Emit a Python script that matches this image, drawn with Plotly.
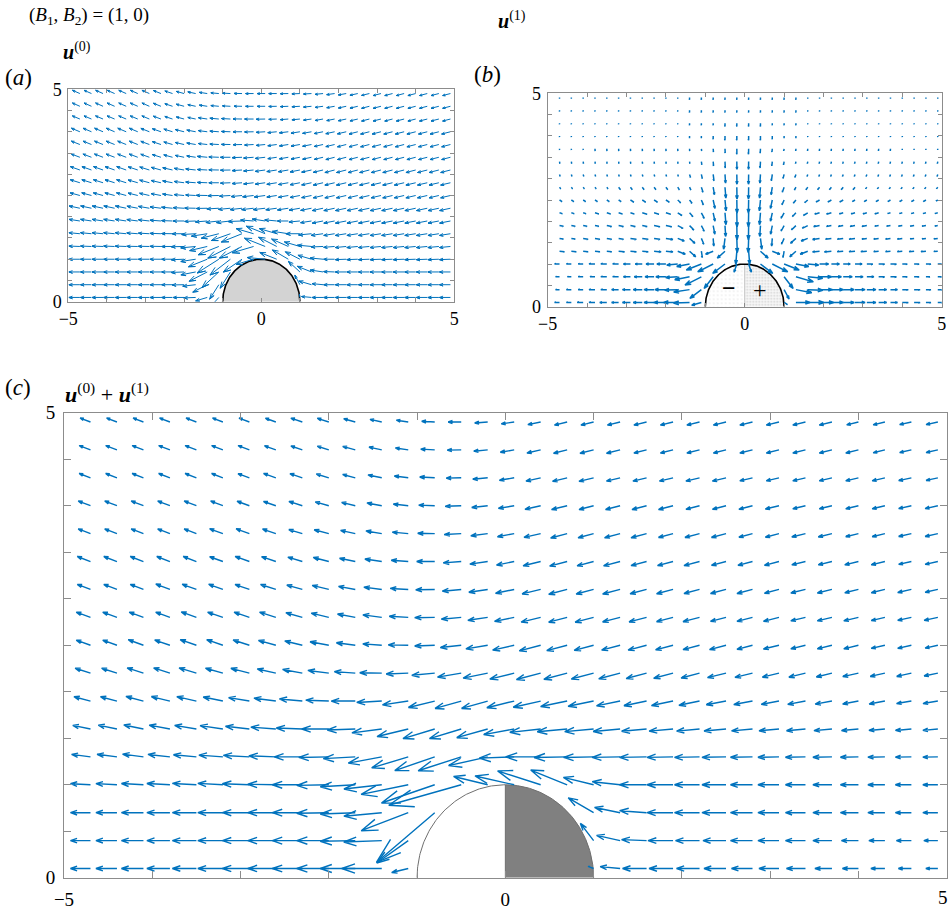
import numpy as np
import plotly.graph_objects as go

# ---------------------------------------------------------------------------
# Sample grid shared by the three quiver panels
# ---------------------------------------------------------------------------
X_GRID = [-4.7, -4.4, -4.1, -3.8, -3.5, -3.2, -2.9, -2.6, -2.3, -2.0, -1.7,
          -1.4, -1.1, -0.8, -0.5, -0.2, 0.1, 0.4, 0.7, 1.0, 1.3, 1.6, 1.9,
          2.2, 2.5, 2.8, 3.1, 3.4, 3.7, 4.0, 4.3, 4.6, 4.9]
Y_GRID = [0.1, 0.4, 0.7, 1.0, 1.3, 1.6, 1.9, 2.2, 2.5, 2.8, 3.1, 3.4, 3.7,
          4.0, 4.3, 4.6, 4.9]

X_LABEL_TICKS = [-5, 0, 5]
X_LABEL_TEXT = ["\u22125", "0", "5"]
X_MINOR_TICKS = [-4, -3, -2, -1, 1, 2, 3, 4]
Y_LABEL_TICKS = [0, 5]
Y_LABEL_TEXT = ["0", "5"]
Y_MINOR_TICKS = [0.5, 1, 1.5, 2, 2.5, 3, 3.5, 4, 4.5]

R_BODY = 1.0  # hemisphere radius

# ---------------------------------------------------------------------------
# u(0): arrow direction (deg, 180 = pointing in -x) and magnitude, rows y=0.1..4.9
# ---------------------------------------------------------------------------
A_DIR = [
    [180]*10 + [182, 195, 225] + [0]*6 + [100, 175] + [180]*12,
    [180]*9 + [181, 186, 205, 235] + [0]*6 + [120, 165, 175] + [180]*11,
    [180]*9 + [182, 190, 205, 220, 235] + [0]*5 + [140, 160, 172, 178] + [180]*10,
    [180]*9 + [182, 188, 200, 210, 215, 212, 195, 175, 160, 152, 155, 165, 175, 180] + [182]*10,
    [178, 178, 178, 178, 178, 179, 179, 179, 180, 181, 185, 192, 200, 205, 205, 195, 160, 155, 158, 165, 175, 182, 184] + [185]*10,
    [175, 175, 175, 175, 175, 176, 177, 178, 179, 180, 183, 188, 193, 198, 200, 165, 160, 165, 172, 180, 185, 187] + [188]*11,
    [172, 172, 172, 172, 172, 173, 174, 176, 178, 180, 182, 184, 186, 186, 182, 176, 172, 175, 180, 185, 188] + [190]*12,
    [169, 169, 169, 169, 169, 170, 171, 173, 175, 177, 179, 181, 183, 185, 186, 186, 186, 187, 188, 189, 190] + [191]*12,
    [166, 166, 166, 166, 166, 167, 168, 170, 172, 175, 177, 179, 181, 183, 185, 186, 187, 188, 189, 190, 191] + [192]*12,
    [164, 164, 164, 164, 164, 165, 166, 168, 170, 173, 176, 178, 180, 182, 184, 186, 187, 188, 189, 190, 191] + [192]*12,
    [162, 162, 162, 162, 162, 163, 164, 166, 168, 171, 174, 177, 179, 181, 183, 185, 187, 188, 189, 190, 191, 192] + [193]*11,
    [161, 161, 161, 161, 161, 161, 162, 164, 166, 169, 172, 175, 178, 180, 182, 184, 186, 188, 189, 190, 191, 192] + [193]*11,
    [160, 160, 160, 160, 160, 160, 161, 163, 165, 168, 171, 174, 177, 179, 181, 183, 185, 187, 188, 189, 190, 191, 192] + [193]*10,
    [159, 159, 159, 159, 159, 159, 160, 162, 164, 167, 170, 173, 176, 178, 180, 181, 183, 185, 186, 188, 189, 190, 191, 192] + [193]*9,
    [159, 159, 159, 159, 159, 159, 159, 161, 163, 166, 169, 172, 175, 177, 179, 180, 181, 182, 184, 185, 187, 189, 190, 191, 192] + [193]*8,
    [158, 158, 158, 158, 158, 158, 158, 160, 163, 166, 169, 172, 175, 177, 179, 180, 180, 181, 182, 183, 185, 187, 189, 191, 192] + [193]*8,
    [158, 158, 158, 158, 158, 158, 158, 160, 163, 166, 169, 172, 175, 177, 179, 180, 180, 180, 181, 182, 183, 185, 187, 189, 191, 192] + [193]*7,
]
A_MAG = [
    [11]*10 + [12, 12, 12] + [0]*6 + [3, 10] + [11]*12,
    [11]*9 + [12, 13, 16, 16] + [0]*6 + [10, 13] + [11]*12,
    [11]*9 + [13, 15, 20, 22, 18] + [0]*5 + [15, 15, 13] + [11]*11,
    [11]*9 + [13, 15, 20, 25, 25, 22, 18, 18, 18, 18, 16, 14, 13] + [11]*11,
    [11]*9 + [13, 15, 18, 22, 25, 25, 22, 22, 20, 18, 16, 14, 12] + [11]*11,
    [11]*9 + [12, 14, 16, 18, 20, 22, 18, 20, 18, 16, 14, 13, 12] + [11]*11,
    [11]*11 + [12, 13, 14, 14, 13, 13, 12] + [11]*15,
    [11]*12 + [12, 12, 12, 12, 12] + [11]*16,
    [10]*11 + [11, 11, 11, 11, 11, 11] + [10]*16,
    [10]*33,
    [10]*33,
    [9]*11 + [10, 10, 10, 10, 10, 10] + [9]*16,
    [9]*33,
    [9]*33,
    [8]*11 + [9, 9, 9, 9, 9, 9] + [8]*16,
    [8]*33,
    [8]*33,
]

# ---------------------------------------------------------------------------
# u(1)
# ---------------------------------------------------------------------------
B_DIR = [
    [180]*11 + [182, 195] + [0]*6 + [330] + [0]*13,
    [180]*10 + [182, 188, 215] + [0]*6 + [300, 350, 358] + [0]*11,
    [180]*10 + [183, 190, 205, 230] + [0]*5 + [310, 345, 355] + [0]*11,
    [180]*10 + [185, 190, 200, 205, 215, 250, 290, 325, 335, 340, 350, 355] + [0]*11,
    [355]*10 + [340, 320, 280, 200, 220, 265, 275, 320, 340, 260, 220, 200] + [185]*11,
    [352]*10 + [340, 320, 295, 275, 262, 272, 268, 278, 265, 245, 220, 200] + [188]*11,
    [350]*10 + [335, 318, 300, 282, 274, 271, 269, 266, 258, 240, 222, 205] + [190]*11,
    [345]*10 + [330, 315, 300, 283, 275, 271, 269, 265, 257, 240, 225, 210] + [195]*11,
    [330]*10 + [320, 310, 295, 283, 276, 271, 269, 264, 257, 245, 230, 220] + [210]*11,
    [310]*10 + [305, 298, 290, 280, 275, 271, 269, 265, 260, 250, 242, 235] + [230]*11,
    [290]*12 + [285, 278, 274, 271, 269, 266, 262, 255] + [250]*13,
    [280]*13 + [276, 273, 271, 269, 267, 264, 260] + [260]*13,
    [275]*12 + [280, 276, 273, 271, 269, 267, 264, 260] + [265]*13,
    [270]*33,
    [270]*33,
    [270]*33,
    [270]*33,
]
B_MAG = [
    [5, 5, 6, 6, 7, 7, 8, 9, 10, 12, 14, 16, 10] + [0]*6 + [4, 14, 16, 14, 12, 11, 10, 9, 8, 7, 6, 6, 5, 5],
    [4, 5, 5, 6, 6, 7, 8, 9, 10, 11, 13, 16, 14] + [0]*6 + [10, 16, 15, 13, 12, 11, 10, 9, 8, 7, 6, 6, 5, 5],
    [4, 4, 5, 5, 6, 6, 7, 8, 9, 10, 12, 15, 18, 14] + [0]*5 + [14, 18, 15, 12, 10, 9, 8, 7, 6, 6, 5, 5, 4, 4],
    [5, 5, 5, 6, 6, 6, 7, 7, 8, 9, 11, 13, 16, 17, 15, 8, 8, 15, 17, 16, 13, 11, 9, 8, 7, 7, 6, 6, 6, 5, 5, 5, 5],
    [5, 5, 5, 5, 5, 6, 6, 6, 7, 7, 8, 8, 6, 8, 10, 12, 12, 10, 8, 6, 8, 8, 7, 7, 6, 6, 6, 5, 5, 5, 5, 5, 4],
    [4, 4, 5, 5, 5, 5, 6, 6, 6, 7, 7, 7, 6, 7, 10, 13, 13, 10, 7, 6, 7, 7, 7, 6, 6, 6, 5, 5, 5, 5, 4, 4, 4],
    [4, 4, 4, 4, 5, 5, 5, 5, 6, 6, 6, 6, 6, 8, 10, 13, 13, 10, 8, 6, 6, 6, 6, 5, 5, 5, 5, 4, 4, 4, 4, 4, 3],
    [3, 3, 3, 4, 4, 4, 4, 5, 5, 5, 5, 5, 6, 8, 11, 13, 13, 11, 8, 6, 5, 5, 5, 5, 4, 4, 4, 4, 3, 3, 3, 3, 3],
    [3, 3, 3, 3, 3, 3, 4, 4, 4, 4, 4, 4, 5, 8, 10, 12, 12, 10, 8, 5, 4, 4, 4, 4, 4, 3, 3, 3, 3, 3, 3, 3, 2],
    [2, 2, 2, 2, 2, 3, 3, 3, 3, 3, 3, 3, 5, 7, 10, 11, 11, 10, 7, 5, 3, 3, 3, 3, 3, 3, 2, 2, 2, 2, 2, 2, 2],
    [2]*11 + [3, 4, 6, 8, 9, 9, 8, 6, 4, 3] + [2]*12,
    [2]*12 + [3, 4, 6, 7, 7, 6, 4, 3] + [2]*13,
    [1]*3 + [2]*9 + [2, 3, 4, 5, 5, 4, 3, 2] + [2]*9 + [1]*4,
    [1]*11 + [2, 2, 3, 4, 4, 4, 4, 3, 2, 2] + [1]*12,
    [1]*11 + [2, 2, 2, 3, 3, 3, 3, 2, 2, 2] + [1]*12,
    [1]*11 + [2]*10 + [1]*12,
    [1]*11 + [2]*10 + [1]*12,
]

# ---------------------------------------------------------------------------
# u(0) + u(1)
# ---------------------------------------------------------------------------
C_DIR = [
    [180, 180, 180, 180, 180, 180, 180, 180, 180, 180, 180, 180, 193, 0, 0, 0, 0, 0, 0, 160, 175, 180, 180, 180, 180, 180, 180, 180, 180, 180, 180, 180, 180],
    [180, 180, 180, 180, 180, 180, 180, 180, 180, 180, 181, 182, 214, 0, 0, 0, 0, 0, 0, 129, 168, 178, 180, 180, 180, 180, 180, 180, 180, 180, 180, 180, 180],
    [180, 180, 180, 180, 180, 180, 180, 180, 180, 181, 182, 185, 200, 219, 0, 0, 0, 0, 0, 151, 169, 176, 180, 180, 180, 180, 180, 180, 180, 180, 180, 180, 180],
    [177, 177, 177, 177, 177, 177, 178, 179, 180, 181, 183, 186, 191, 198, 195, 167, 168, 163, 159, 167, 174, 180, 180, 180, 180, 180, 180, 180, 180, 180, 180, 180, 180],
    [173, 173, 173, 174, 175, 176, 177, 178, 180, 181, 183, 190, 196, 198, 197, 192, 182, 180, 181, 181, 181, 181, 181, 181, 181, 181, 181, 181, 181, 181, 181, 181, 181],
    [169, 169, 169, 170, 171, 172, 174, 176, 178, 180, 182, 187, 193, 196, 196, 195, 190, 186, 185, 185, 185, 185, 185, 185, 185, 185, 185, 185, 185, 185, 185, 185, 185],
    [166, 166, 166, 167, 168, 169, 171, 173, 175, 178, 180, 183, 188, 193, 195, 195, 193, 192, 191, 191, 191, 191, 191, 191, 190, 190, 190, 190, 190, 190, 190, 189, 189],
    [163, 163, 163, 163, 164, 165, 166, 168, 170, 173, 176, 179, 182, 185, 189, 191, 193, 194, 194, 194, 194, 194, 194, 194, 193, 193, 193, 193, 193, 192, 192, 192, 191],
    [161, 161, 161, 162, 162, 162, 163, 165, 167, 170, 173, 176, 179, 182, 186, 189, 192, 194, 194, 194, 194, 194, 194, 194, 194, 194, 193, 193, 193, 193, 192, 192, 192],
    [161, 161, 161, 161, 161, 162, 162, 163, 165, 167, 170, 173, 177, 181, 185, 188, 191, 193, 194, 194, 194, 194, 194, 194, 194, 194, 194, 193, 193, 193, 193, 192, 192],
    [160, 160, 160, 160, 161, 161, 162, 163, 165, 167, 170, 173, 177, 181, 185, 188, 191, 193, 194, 194, 194, 194, 194, 194, 194, 194, 194, 193, 193, 193, 193, 192, 192],
    [160, 160, 160, 160, 160, 161, 161, 162, 164, 166, 169, 172, 176, 180, 184, 188, 191, 193, 194, 194, 194, 194, 194, 194, 194, 194, 194, 193, 193, 193, 193, 192, 192],
    [160, 160, 160, 160, 160, 161, 161, 162, 164, 166, 168, 171, 175, 179, 183, 187, 190, 192, 194, 194, 194, 194, 194, 194, 194, 194, 194, 193, 193, 193, 193, 192, 192],
    [160, 160, 160, 160, 160, 160, 161, 162, 163, 165, 167, 170, 174, 178, 182, 186, 189, 192, 193, 194, 194, 194, 194, 194, 194, 194, 193, 193, 193, 193, 193, 192, 192],
    [160, 160, 160, 160, 160, 160, 161, 161, 162, 164, 166, 169, 173, 177, 181, 185, 189, 192, 193, 193, 193, 193, 193, 193, 193, 193, 193, 193, 193, 193, 193, 192, 192],
    [160, 160, 160, 160, 160, 160, 160, 161, 162, 163, 165, 168, 172, 177, 181, 185, 189, 192, 193, 193, 193, 193, 193, 193, 193, 193, 193, 193, 193, 193, 193, 192, 192],
    [160, 160, 160, 160, 160, 160, 160, 161, 162, 163, 165, 168, 172, 177, 180, 184, 188, 191, 193, 193, 193, 193, 193, 193, 193, 193, 193, 193, 193, 193, 193, 192, 192],
]
C_MAG = [
    [20, 21, 22, 23, 24, 25, 27, 28, 30, 32, 35, 40, 17, 0, 0, 0, 0, 0, 0, 6, 20, 24, 24, 23, 22, 21, 20, 19, 17, 16, 14, 13, 12],
    [20, 21, 22, 23, 24, 25, 27, 28, 30, 32, 35, 38, 38, 0, 0, 0, 0, 0, 0, 21, 24, 25, 25, 24, 23, 22, 21, 20, 19, 17, 16, 15, 14],
    [20, 21, 22, 23, 24, 25, 27, 28, 30, 32, 35, 38, 50, 75, 0, 0, 0, 0, 0, 29, 26, 27, 26, 25, 24, 22, 21, 20, 19, 18, 17, 16, 15],
    [20, 21, 22, 23, 24, 25, 27, 28, 30, 32, 35, 38, 48, 56, 75, 35, 40, 45, 39, 31, 28, 27, 26, 25, 24, 22, 21, 20, 19, 18, 17, 16, 15],
    [19, 20, 21, 22, 23, 24, 26, 27, 28, 30, 32, 34, 38, 42, 45, 40, 35, 35, 33, 30, 28, 27, 26, 25, 24, 22, 21, 20, 19, 18, 17, 16, 15],
    [18, 19, 20, 21, 22, 23, 24, 25, 26, 27, 28, 30, 32, 33, 33, 32, 31, 31, 30, 29, 27, 25, 24, 23, 22, 21, 20, 19, 18, 17, 16, 16, 15],
    [17, 17, 18, 19, 20, 20, 21, 22, 23, 23, 24, 25, 26, 27, 27, 27, 28, 28, 27, 26, 24, 23, 22, 21, 20, 19, 18, 18, 17, 16, 16, 15, 15],
    [16, 16, 17, 17, 18, 18, 19, 19, 20, 21, 21, 22, 22, 23, 24, 25, 25, 25, 24, 23, 22, 21, 20, 19, 19, 18, 17, 17, 16, 16, 15, 15, 14],
    [15, 15, 16, 16, 17, 17, 17, 18, 18, 19, 19, 19, 20, 20, 21, 22, 22, 22, 21, 20, 19, 19, 18, 17, 17, 16, 16, 15, 15, 15, 14, 14, 13],
    [15, 15, 15, 15, 16, 16, 16, 17, 17, 18, 18, 19, 19, 20, 20, 20, 20, 20, 19, 19, 18, 18, 17, 17, 16, 16, 16, 15, 15, 15, 14, 14, 14],
    [14, 14, 14, 15, 15, 15, 15, 16, 16, 17, 17, 18, 18, 19, 19, 19, 19, 19, 19, 18, 18, 17, 17, 16, 16, 16, 15, 15, 15, 14, 14, 14, 13],
    [14, 14, 14, 14, 14, 14, 15, 15, 15, 16, 16, 17, 17, 18, 18, 18, 18, 18, 18, 17, 17, 16, 16, 16, 15, 15, 15, 14, 14, 14, 14, 13, 13],
    [13, 13, 13, 13, 13, 14, 14, 14, 14, 15, 15, 16, 16, 17, 17, 17, 17, 17, 17, 16, 16, 16, 15, 15, 15, 14, 14, 14, 14, 13, 13, 13, 13],
    [13, 13, 13, 13, 13, 13, 13, 13, 14, 14, 14, 15, 15, 16, 16, 16, 16, 16, 16, 15, 15, 15, 15, 14, 14, 14, 14, 13, 13, 13, 13, 13, 13],
    [12, 12, 12, 12, 12, 12, 12, 13, 13, 13, 13, 14, 14, 15, 15, 15, 15, 15, 15, 15, 14, 14, 14, 14, 14, 13, 13, 13, 13, 13, 13, 13, 12],
    [12, 12, 12, 12, 12, 12, 12, 12, 12, 12, 13, 13, 13, 14, 14, 14, 14, 14, 14, 14, 14, 13, 13, 13, 13, 13, 13, 13, 13, 13, 12, 12, 12],
    [11, 11, 11, 11, 11, 11, 11, 11, 12, 12, 12, 12, 12, 13, 13, 13, 13, 13, 13, 13, 13, 13, 13, 13, 13, 13, 13, 13, 13, 12, 12, 12, 12],
]

# quiver length scale (data units per magnitude unit) for each panel
A_SCALE = 0.0259
B_SCALE = 0.0254
C_SCALE = 0.01133

for name, tab in [("A_DIR", A_DIR), ("A_MAG", A_MAG), ("B_DIR", B_DIR), ("B_MAG", B_MAG),
                  ("C_DIR", C_DIR), ("C_MAG", C_MAG)]:
    if len(tab) != len(Y_GRID) or any(len(row) != len(X_GRID) for row in tab):
        raise ValueError(name + " has the wrong shape")

ARROW_BLUE = "#0072BD"
AXIS_GREY = "#8c8c8c"
SERIF = "Liberation Serif"


def quiver_paths(dirs, mags, scale, alpha=0.33, beta=0.33):
    """Shaft + two-barb head for every grid point, MATLAB quiver style."""
    xs, ys = [], []
    for j, y0 in enumerate(Y_GRID):
        for i, x0 in enumerate(X_GRID):
            m = mags[j][i]
            if m <= 0:
                continue
            a = np.deg2rad(dirs[j][i])
            u = scale * m * np.cos(a)
            v = scale * m * np.sin(a)
            x1, y1 = x0 + u, y0 + v
            xs += [x0, x1, x1 - alpha * (u + beta * v), x1, x1 - alpha * (u - beta * v), None]
            ys += [y0, y1, y1 - alpha * (v - beta * u), y1, y1 - alpha * (v + beta * u), None]
    return xs, ys


fig = go.Figure()

arc = np.linspace(0.0, np.pi, 181)
arc_l = np.linspace(np.pi / 2, np.pi, 91)
arc_r = np.linspace(0.0, np.pi / 2, 91)

# ---------------- panel (a) body ----------------
fig.add_trace(go.Scatter(
    x=R_BODY * np.cos(arc), y=R_BODY * np.sin(arc), mode="lines", fill="toself",
    fillcolor="#d3d3d3", line=dict(color="black", width=1.6),
    xaxis="x", yaxis="y", hoverinfo="skip", showlegend=False))

# ---------------- panel (b) body: stippled halves ----------------
fig.add_trace(go.Scatter(
    x=[0.0] + list(R_BODY * np.cos(arc_l)), y=[0.0] + list(R_BODY * np.sin(arc_l)),
    mode="none", fill="toself", fillcolor="white",
    fillpattern=dict(shape=".", size=4, solidity=0.1, fgcolor="#c2c2c2", bgcolor="white"),
    xaxis="x2", yaxis="y2", hoverinfo="skip", showlegend=False))
fig.add_trace(go.Scatter(
    x=[0.0] + list(R_BODY * np.cos(arc_r)), y=[0.0] + list(R_BODY * np.sin(arc_r)),
    mode="none", fill="toself", fillcolor="white",
    fillpattern=dict(shape=".", size=3, solidity=0.25, fgcolor="#a8a8a8", bgcolor="#f6f6f6"),
    xaxis="x2", yaxis="y2", hoverinfo="skip", showlegend=False))
fig.add_trace(go.Scatter(
    x=[0.0, 0.0], y=[0.0, R_BODY], mode="lines", line=dict(color="#c4c4c4", width=1),
    xaxis="x2", yaxis="y2", hoverinfo="skip", showlegend=False))
fig.add_trace(go.Scatter(
    x=R_BODY * np.cos(arc), y=R_BODY * np.sin(arc), mode="lines",
    line=dict(color="black", width=1.6),
    xaxis="x2", yaxis="y2", hoverinfo="skip", showlegend=False))

# ---------------- panel (c) body: white / grey halves ----------------
fig.add_trace(go.Scatter(
    x=[0.0] + list(R_BODY * np.cos(arc_r)), y=[0.0] + list(R_BODY * np.sin(arc_r)),
    mode="none", fill="toself", fillcolor="#808080",
    xaxis="x3", yaxis="y3", hoverinfo="skip", showlegend=False))
fig.add_trace(go.Scatter(
    x=[0.0, 0.0], y=[0.0, R_BODY], mode="lines", line=dict(color="#6f6f6f", width=1),
    xaxis="x3", yaxis="y3", hoverinfo="skip", showlegend=False))
fig.add_trace(go.Scatter(
    x=R_BODY * np.cos(arc), y=R_BODY * np.sin(arc), mode="lines",
    line=dict(color="#6f6f6f", width=1),
    xaxis="x3", yaxis="y3", hoverinfo="skip", showlegend=False))

# ---------------- arrows ----------------
for dirs, mags, scale, xa, ya, w in [
    (A_DIR, A_MAG, A_SCALE, "x", "y", 1.0),
    (B_DIR, B_MAG, B_SCALE, "x2", "y2", 1.5),
    (C_DIR, C_MAG, C_SCALE, "x3", "y3", 1.4),
]:
    qx, qy = quiver_paths(dirs, mags, scale)
    fig.add_trace(go.Scatter(
        x=qx, y=qy, mode="lines", line=dict(color=ARROW_BLUE, width=w),
        xaxis=xa, yaxis=ya, hoverinfo="skip", showlegend=False))


def axis(kind, domain, anchor, ticklen, fsize, standoff, n_labels=None):
    if kind == "x":
        rng, vals, text, minor = [-5, 5], X_LABEL_TICKS, X_LABEL_TEXT, X_MINOR_TICKS
    else:
        rng, vals, text, minor = [0, 5], Y_LABEL_TICKS, Y_LABEL_TEXT, Y_MINOR_TICKS
    if n_labels is not None:
        # unlabelled end ticks go to the minor set
        minor = minor + vals[n_labels:]
        vals, text = vals[:n_labels], text[:n_labels]
    return dict(domain=domain, anchor=anchor, range=rng, automargin=False,
                tickmode="array", tickvals=vals, ticktext=text,
                ticks="inside", ticklen=ticklen, tickcolor=AXIS_GREY, tickwidth=1,
                minor=dict(tickmode="array", tickvals=minor, ticks="inside",
                           ticklen=ticklen, tickcolor=AXIS_GREY, tickwidth=1,
                           showgrid=False),
                showline=True, linecolor=AXIS_GREY, linewidth=1, mirror="ticks",
                showgrid=False, zeroline=False, ticklabelstandoff=standoff,
                tickfont=dict(family=SERIF, size=fsize, color="black"),
                fixedrange=True)


W, H = 949, 910


def px(xp):
    return xp / W


def py(yp):
    return 1 - yp / H


fig.update_layout(
    width=W, height=H, autosize=False,
    margin=dict(l=0, r=0, t=0, b=0, pad=0),
    paper_bgcolor="white", plot_bgcolor="white", showlegend=False,
    xaxis=axis("x", [px(68.3), px(454.3)], "y", 4, 18, 1),
    yaxis=axis("y", [py(301.7), py(89.3)], "x", 4, 18, 2),
    xaxis2=axis("x", [px(547.7), px(941.7)], "y2", 4, 18, 1),
    yaxis2=axis("y", [py(306.7), py(93.3)], "x2", 4, 18, 2),
    xaxis3=axis("x", [px(64.0), px(946.7)], "y3", 7, 19, 4, n_labels=2),
    yaxis3=axis("y", [py(877.8), py(412.7)], "x3", 7, 19, 4),
)

ann = []


def label(text, x, y, size, anchor="left"):
    ann.append(dict(text=text, x=px(x), y=py(y), xref="paper", yref="paper",
                    xanchor=anchor, yanchor="middle", showarrow=False, borderpad=0,
                    font=dict(family=SERIF, size=size, color="black")))


label("(<i>B</i><sub>1</sub>, <i>B</i><sub>2</sub>) = (1, 0)", 28, 16, 19)
label("<b><i>u</i></b><sup>(0)</sup>", 62, 51, 20)
label("(<i>a</i>)", 4, 77, 23)
label("<b><i>u</i></b><sup>(1)</sup>", 497, 20, 20)
label("(<i>b</i>)", 473, 74, 23)
label("(<i>c</i>)", 4, 387, 23)
label("<b><i>u</i></b><sup>(0)</sup> + <b><i>u</i></b><sup>(1)</sup>", 64, 393, 22)
# right-hand x label of the bottom panel, kept inside the page edge
label(X_LABEL_TEXT[-1], 948.5, 897, 19, anchor="right")

# sign markers on the two halves of the body in panel (b)
ann.append(dict(text="<b>\u2212</b>", x=-0.4, y=0.43, xref="x2", yref="y2",
                showarrow=False, font=dict(family=SERIF, size=24, color="black")))
ann.append(dict(text="+", x=0.4, y=0.40, xref="x2", yref="y2",
                showarrow=False, font=dict(family=SERIF, size=24, color="black")))

fig.update_layout(annotations=ann)

fig.write_html("out.html")
